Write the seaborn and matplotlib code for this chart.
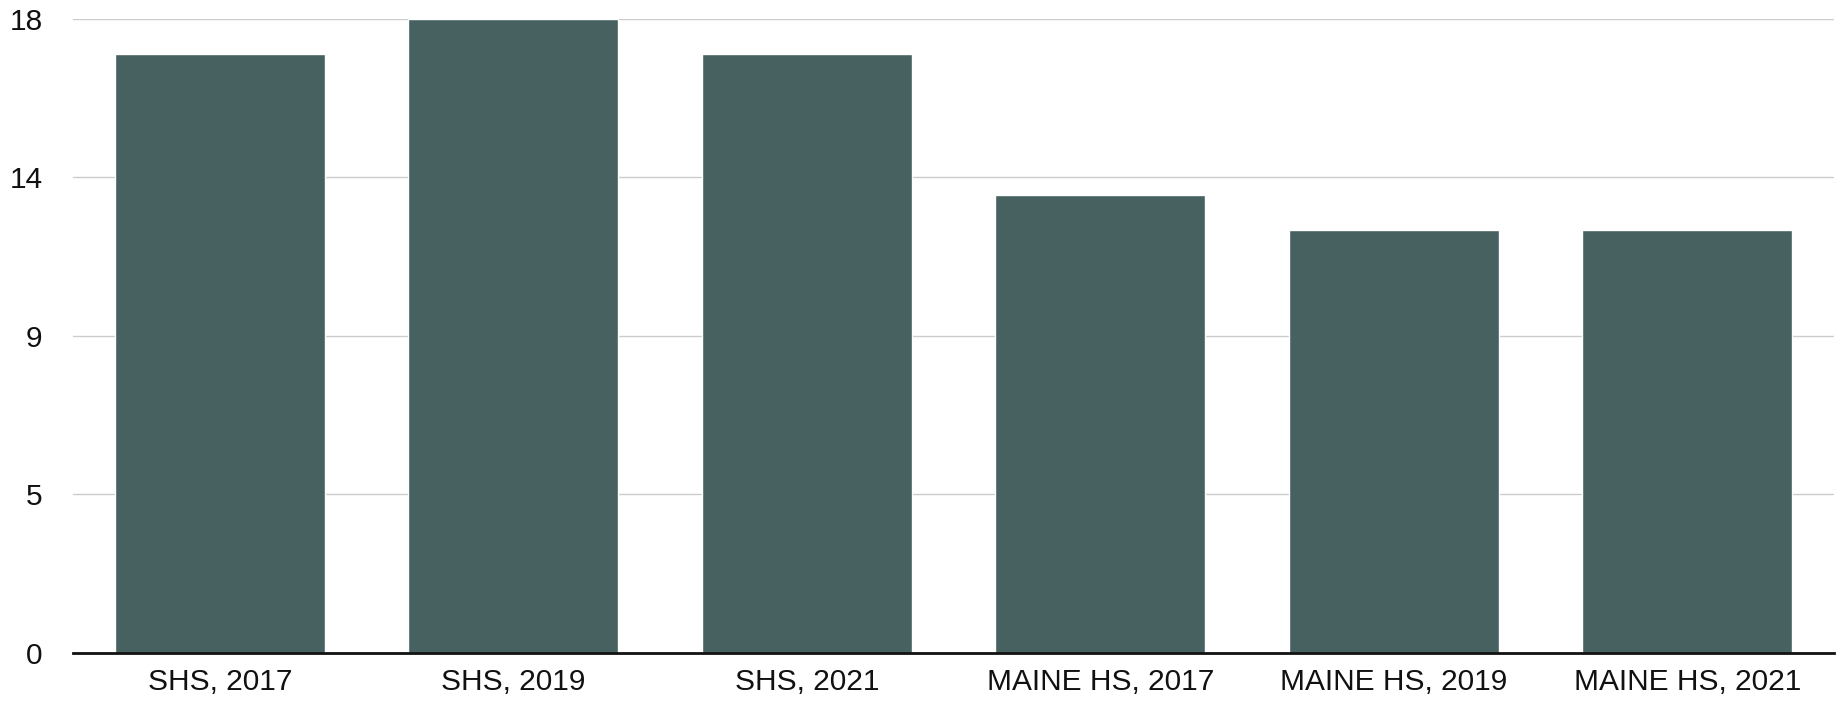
import pandas as pd
import seaborn as sns
import matplotlib.pyplot as plt

# data
groups = ['SHS, 2017', 'SHS, 2019', 'SHS, 2021',
          'MAINE HS, 2017', 'MAINE HS, 2019', 'MAINE HS, 2021']
values = [17, 18, 17, 13, 12, 12]
ytick_pos = [0, 4.5, 9, 13.5, 18]
ytick_labels = ['0', '5', '9', '14', '18']

df = pd.DataFrame({'group': groups, 'value': values})

sns.set_theme(style='white')
plt.rcParams['font.family'] = ['Liberation Sans', 'DejaVu Sans']

fig = plt.figure(figsize=(18.45, 7.02), dpi=100)
ax = fig.add_axes([0.0396, 0.0698, 0.9544, 0.9032])

# light gridlines behind the bars
for y in ytick_pos[1:]:
    ax.axhline(y, color='#cccccc', linewidth=1, zorder=0)

sns.barplot(data=df, x='group', y='value', color='#476160',
            saturation=1, width=0.715, ax=ax, zorder=3)

ax.set_ylim(0, 18)
ax.set_xlim(-0.5, len(groups) - 0.5)
ax.set_yticks(ytick_pos)
ax.set_yticklabels(ytick_labels)
ax.grid(False)

ax.tick_params(axis='y', left=False, pad=16, labelsize=21.5, labelcolor='#111111')
ax.tick_params(axis='x', bottom=False, pad=5, labelsize=21.5, labelcolor='#111111')
ax.set_xlabel('')
ax.set_ylabel('')

sns.despine(ax=ax, left=True)
ax.spines['bottom'].set_color('#111111')
ax.spines['bottom'].set_linewidth(2)
ax.spines['bottom'].set_zorder(5)

fig.savefig('out.png', dpi=100, facecolor='white')
